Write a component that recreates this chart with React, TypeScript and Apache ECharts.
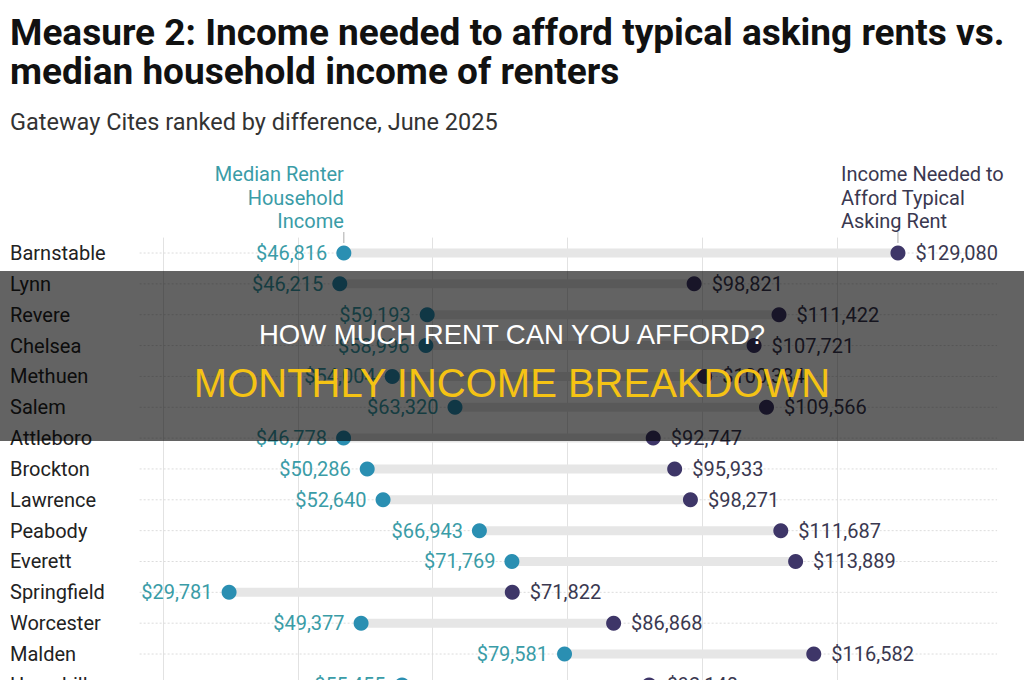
import React, { useEffect, useRef } from "react";
import * as echarts from "echarts";

const cities = [
  "Barnstable", "Lynn", "Revere", "Chelsea", "Methuen", "Salem", "Attleboro",
  "Brockton", "Lawrence", "Peabody", "Everett", "Springfield", "Worcester", "Malden", "Haverhill",
];
const medianIncome = [46816, 46215, 59193, 58996, 54004, 63320, 46778, 50286, 52640, 66943, 71769, 29781, 49377, 79581, 55455];
const incomeNeeded = [129080, 98821, 111422, 107721, 100384, 109566, 92747, 95933, 98271, 111687, 113889, 71822, 86868, 116582, 92140];
const xMin = 0;
const xMax = 140000;
const xStep = 20000;
const guideExtent = [16500, 143800];

const titleText = "Measure 2: Income needed to afford typical asking rents vs.\nmedian household income of renters";
const subtitleText = "Gateway Cites ranked by difference, June 2025";
const medianHeader = "Median Renter\nHousehold\nIncome";
const neededHeader = "Income Needed to\nAfford Typical\nAsking Rent";
const bannerLine1 = "HOW MUCH RENT CAN YOU AFFORD?";
const bannerLine2 = "MONTHLY INCOME BREAKDOWN";

const TEAL_DOT = "#2a8fb2";
const TEAL_TEXT = "#3a9ca7";
const PURPLE_DOT = "#3e3668";
const PURPLE_TEXT = "#3a3850";
const FONT = "Roboto, 'Noto Sans', sans-serif";

const fmt = (v: number) => "$" + v.toLocaleString("en-US");

export default function App() {
  const ref = useRef<HTMLDivElement>(null);
  useEffect(() => {
    const chart = echarts.init(ref.current!, null, { renderer: "svg" });
    const rows = cities.map((c, i) => [medianIncome[i], incomeNeeded[i], i]);
    chart.setOption({
      animation: false,
      backgroundColor: "#ffffff",
      title: [
        {
          text: titleText,
          left: 10,
          top: 13,
          padding: 0,
          textStyle: { fontFamily: FONT, fontSize: 37, fontWeight: "bold", color: "#111", lineHeight: 39 },
        },
        {
          text: subtitleText,
          left: 10,
          top: 110,
          padding: 0,
          textStyle: { fontFamily: FONT, fontSize: 23.5, fontWeight: "normal", color: "#333" },
        },
      ],
      grid: { left: 28.5, top: 237.6, width: 943, height: 462.7 },
      xAxis: {
        type: "value",
        min: xMin,
        max: xMax,
        interval: xStep,
        axisLine: { show: false },
        axisTick: { show: false },
        axisLabel: { show: false },
        splitLine: { show: true, showMinLine: false, showMaxLine: false, lineStyle: { color: "#e2e2e2", width: 1 } },
      },
      yAxis: {
        type: "category",
        data: cities,
        inverse: true,
        axisLine: { show: false },
        axisTick: { show: false },
        splitLine: { show: false },
        axisLabel: { align: "left", margin: 18.5, fontFamily: FONT, fontSize: 20, color: "#222" },
      },
      series: [
        {
          type: "custom",
          silent: true,
          clip: false,
          data: rows,
          encode: { x: [0, 1], y: 2 },
          z: 1,
          renderItem: (params: any, api: any) => {
            const i = api.value(2);
            const a = api.coord([guideExtent[0], i]);
            const b = api.coord([guideExtent[1], i]);
            return {
              type: "line",
              shape: { x1: a[0], y1: a[1], x2: b[0], y2: b[1] },
              style: { stroke: "#dcdcdc", lineWidth: 1, lineDash: [2, 2] },
            };
          },
        },
        {
          type: "custom",
          silent: true,
          clip: false,
          data: rows,
          encode: { x: [0, 1], y: 2 },
          z: 2,
          renderItem: (params: any, api: any) => {
            const i = api.value(2);
            const a = api.coord([api.value(0), i]);
            const b = api.coord([api.value(1), i]);
            return {
              type: "line",
              shape: { x1: a[0], y1: a[1], x2: b[0], y2: b[1] },
              style: { stroke: "#e6e6e6", lineWidth: 9 },
            };
          },
        },
        {
          type: "scatter",
          z: 3,
          data: medianIncome.map((v, i) => [v, i]),
          symbolSize: 15,
          itemStyle: { color: TEAL_DOT, opacity: 1 },
          label: {
            show: true,
            position: "left",
            distance: 9,
            formatter: (p: any) => fmt(p.value[0]),
            fontFamily: FONT,
            fontSize: 20,
            color: TEAL_TEXT,
          },
        },
        {
          type: "scatter",
          z: 3,
          data: incomeNeeded.map((v, i) => [v, i]),
          symbolSize: 15,
          itemStyle: { color: PURPLE_DOT, opacity: 1 },
          label: {
            show: true,
            position: "right",
            distance: 10,
            formatter: (p: any) => fmt(p.value[0]),
            fontFamily: FONT,
            fontSize: 20,
            color: PURPLE_TEXT,
          },
        },
      ],
    });

    const tp = chart.convertToPixel({ seriesIndex: 2 }, [medianIncome[0], 0]) as number[];
    const pp = chart.convertToPixel({ seriesIndex: 3 }, [incomeNeeded[0], 0]) as number[];
    const width = chart.getWidth();

    chart.setOption({
      graphic: [
        {
          type: "text",
          z: 50,
          x: tp[0],
          y: tp[1] - 20,
          style: {
            text: medianHeader,
            align: "right",
            verticalAlign: "bottom",
            fontFamily: FONT,
            fontSize: 20,
            lineHeight: 23.5,
            fill: TEAL_TEXT,
          },
        },
        {
          type: "line",
          z: 50,
          shape: { x1: tp[0], y1: tp[1] - 21, x2: tp[0], y2: tp[1] - 10 },
          style: { stroke: "#aaaaaa", lineWidth: 1 },
        },
        {
          type: "text",
          z: 50,
          x: pp[0] - 57,
          y: pp[1] - 20,
          style: {
            text: neededHeader,
            align: "left",
            verticalAlign: "bottom",
            fontFamily: FONT,
            fontSize: 20,
            lineHeight: 23.5,
            fill: PURPLE_TEXT,
          },
        },
        {
          type: "line",
          z: 50,
          shape: { x1: pp[0], y1: pp[1] - 21, x2: pp[0], y2: pp[1] - 10 },
          style: { stroke: "#aaaaaa", lineWidth: 1 },
        },
        {
          type: "rect",
          z: 100,
          shape: { x: 0, y: 271, width: width, height: 170 },
          style: { fill: "rgba(0,0,0,0.61)" },
        },
        {
          type: "text",
          z: 101,
          x: width / 2,
          y: 334,
          style: {
            text: bannerLine1,
            align: "center",
            verticalAlign: "middle",
            fontFamily: "'Liberation Sans', Arial, sans-serif",
            fontSize: 27.5,
            fill: "#ffffff",
          },
        },
        {
          type: "text",
          z: 101,
          x: width / 2,
          y: 383,
          style: {
            text: bannerLine2,
            align: "center",
            verticalAlign: "middle",
            fontFamily: "'Liberation Sans', Arial, sans-serif",
            fontSize: 40,
            fill: "#f5c314",
          },
        },
      ],
    });

    return () => chart.dispose();
  }, []);

  return (
    <div style={{ position: "absolute", left: 0, top: 0, width: 1024, height: 680, overflow: "hidden", background: "#fff" }}>
      <div ref={ref} style={{ width: 1024, height: 720 }} />
    </div>
  );
}
